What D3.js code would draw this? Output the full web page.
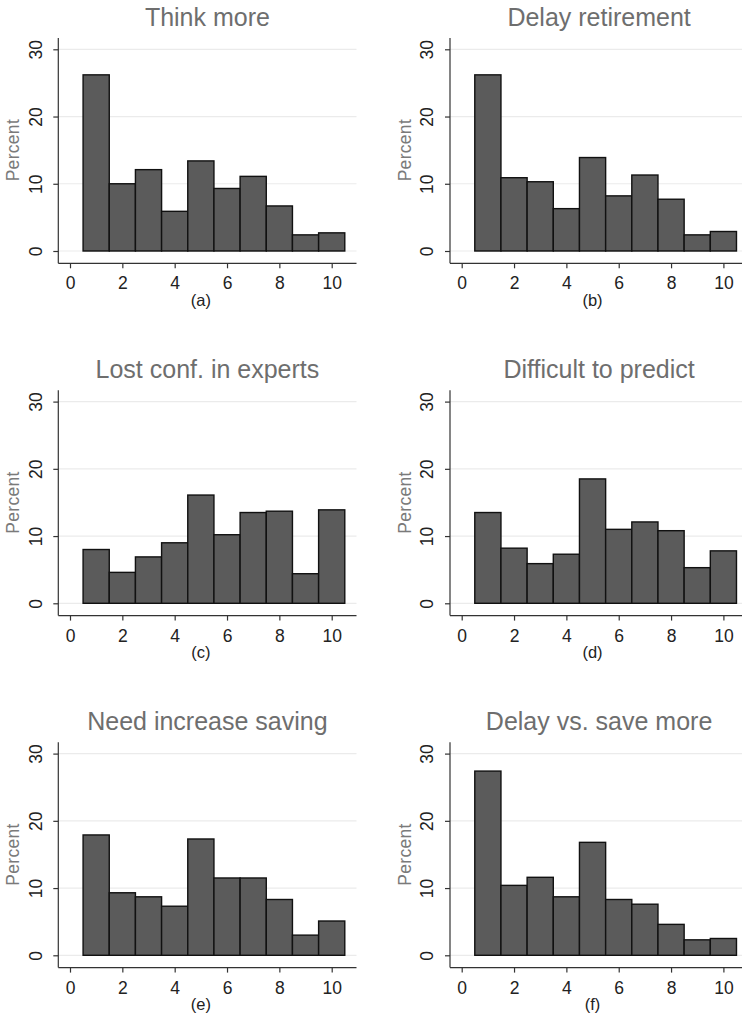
<!DOCTYPE html>
<html>
<head>
<meta charset="utf-8">
<script src="https://cdn.jsdelivr.net/npm/d3@7"></script>
<style>
  html, body { margin: 0; padding: 0; background: #fff; }
  svg { display: block; }
  text { font-family: "Liberation Sans", Arial, Helvetica, sans-serif; }
</style>
</head>
<body>
<svg id="chart" width="742" height="1020"></svg>
<script>
// ---- data ----
const scores = [1, 2, 3, 4, 5, 6, 7, 8, 9, 10];
const titles = ["Think more", "Delay retirement", "Lost conf. in experts",
                "Difficult to predict", "Need increase saving", "Delay vs. save more"];
const panelLabels = ["(a)", "(b)", "(c)", "(d)", "(e)", "(f)"];
const thinkMore      = [26.2, 10.0, 12.1, 5.9, 13.4, 9.3, 11.1, 6.7, 2.4, 2.7];
const delayRetire    = [26.2, 10.9, 10.3, 6.3, 13.9, 8.2, 11.3, 7.7, 2.4, 2.9];
const lostConf       = [8.0, 4.6, 6.9, 9.0, 16.1, 10.2, 13.5, 13.7, 4.4, 13.9];
const diffPredict    = [13.5, 8.2, 5.9, 7.3, 18.5, 11.0, 12.1, 10.8, 5.3, 7.8];
const needSaving     = [17.9, 9.3, 8.7, 7.3, 17.3, 11.5, 11.5, 8.3, 3.0, 5.1];
const delayVsSave    = [27.4, 10.4, 11.6, 8.7, 16.8, 8.3, 7.6, 4.6, 2.3, 2.5];
const series = [thinkMore, delayRetire, lostConf, diffPredict, needSaving, delayVsSave];
const xTicks = [0, 2, 4, 6, 8, 10];
const yTicks = [0, 10, 20, 30];

// ---- layout ----
const svg = d3.select("#chart");
const colOffsets = [0, 391.7];
const rowOffsets = [0, 352.3, 704.3];

series.forEach((vals, i) => {
  const ox = colOffsets[i % 2];
  const oy = rowOffsets[Math.floor(i / 2)];
  const g = svg.append("g").attr("transform", `translate(${ox},${oy})`);

  const x = d3.scaleLinear().domain([0, 10]).range([70, 331.7]);
  const y = d3.scaleLinear().domain([0, 30]).range([251, 49.3]);
  const axisX = 58.3, axisY = 263.3, rightEnd = 356.5;

  // gridlines
  g.selectAll("line.grid").data(yTicks).enter().append("line")
    .attr("x1", axisX).attr("x2", rightEnd)
    .attr("y1", d => y(d)).attr("y2", d => y(d))
    .attr("stroke", "#ebebeb").attr("stroke-width", 1.2);

  // bars
  g.selectAll("rect.bar").data(vals).enter().append("rect")
    .attr("x", (d, k) => x(scores[k] - 0.5))
    .attr("width", (d, k) => x(scores[k] + 0.5) - x(scores[k] - 0.5))
    .attr("y", d => y(d))
    .attr("height", d => y(0) - y(d))
    .attr("fill", "#5b5b5b")
    .attr("stroke", "#111")
    .attr("stroke-width", 1.4);

  // y axis
  const yAxis = d3.axisLeft(y).tickValues(yTicks).tickSize(5).tickFormat(d3.format("d"));
  const ya = g.append("g").attr("transform", `translate(${axisX},0)`).call(yAxis);
  ya.select(".domain").remove();
  g.append("line").attr("x1", axisX).attr("x2", axisX).attr("y1", 38).attr("y2", axisY)
    .attr("stroke", "#333").attr("stroke-width", 1.2);
  ya.selectAll(".tick line").attr("stroke", "#333").attr("stroke-width", 1.2);
  ya.selectAll(".tick text")
    .attr("x", null).attr("dy", null)
    .attr("transform", "translate(-16.8,0) rotate(-90)")
    .attr("text-anchor", "middle")
    .attr("font-size", 17.5).attr("fill", "#222");

  // x axis
  const xAxis = d3.axisBottom(x).tickValues(xTicks).tickSize(5).tickFormat(d3.format("d"));
  const xa = g.append("g").attr("transform", `translate(0,${axisY})`).call(xAxis);
  xa.select(".domain").remove();
  g.append("line").attr("x1", axisX).attr("x2", rightEnd).attr("y1", axisY).attr("y2", axisY)
    .attr("stroke", "#333").attr("stroke-width", 1.2);
  xa.selectAll(".tick line").attr("stroke", "#333").attr("stroke-width", 1.2);
  xa.selectAll(".tick text")
    .attr("y", 26).attr("dy", null)
    .attr("font-size", 17.5).attr("fill", "#222");

  // y label
  g.append("text")
    .attr("transform", `translate(19,${y(15)}) rotate(-90)`)
    .attr("text-anchor", "middle")
    .attr("font-size", 17.5).attr("letter-spacing", 0.3).attr("fill", "#7a7a7a")
    .text("Percent");

  // panel label
  g.append("text")
    .attr("x", x(5)).attr("y", 306)
    .attr("text-anchor", "middle")
    .attr("font-size", 16.5).attr("fill", "#222")
    .text(panelLabels[i]);

  // title
  g.append("text")
    .attr("x", (axisX + rightEnd) / 2).attr("y", 26)
    .attr("text-anchor", "middle")
    .attr("font-size", 25).attr("fill", "#6e6e6e")
    .text(titles[i]);
});
</script>
</body>
</html>
